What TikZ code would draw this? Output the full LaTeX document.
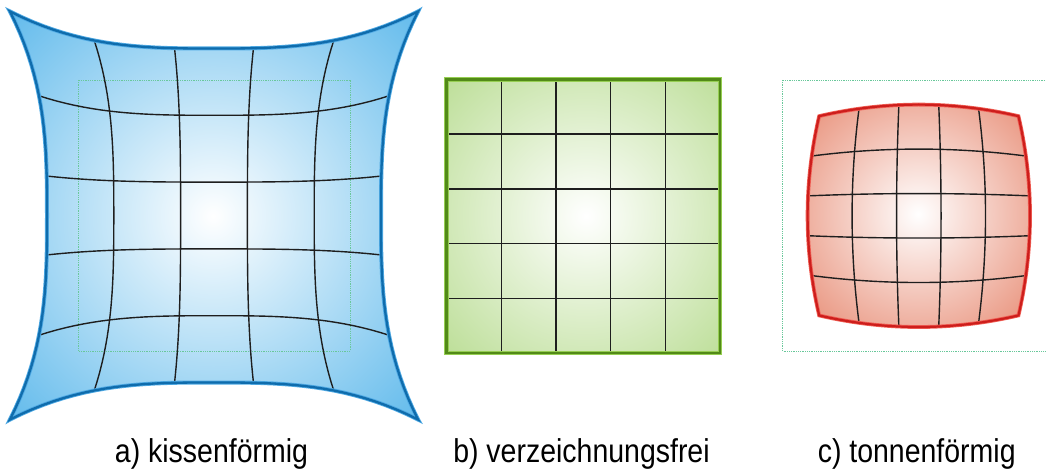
\documentclass[tikz,border=0pt]{standalone}
\usepackage{fontspec}
\setmainfont{Liberation Sans}
\usepackage{graphicx}
\definecolor{blueF}{RGB}{92,184,235}
\definecolor{blueD}{RGB}{15,108,172}
\definecolor{blueL}{RGB}{80,170,228}
\definecolor{greenF}{RGB}{186,221,148}
\definecolor{greenD}{RGB}{82,138,24}
\definecolor{greenL}{RGB}{150,206,82}
\definecolor{redF}{RGB}{233,148,126}
\definecolor{redD}{RGB}{205,30,28}
\definecolor{redL}{RGB}{240,95,85}
\definecolor{gridC}{RGB}{30,30,30}
\definecolor{guideC}{RGB}{105,200,155}
\newcommand\PinPath{plot[domain=-1:1,samples=41] ({PAx(\x,-1)},{PAy(\x,-1)}) -- plot[domain=-1:1,samples=41] ({PAx(1,\x)},{PAy(1,\x)}) -- plot[domain=1:-1,samples=41] ({PAx(\x,1)},{PAy(\x,1)}) -- plot[domain=1:-1,samples=41] ({PAx(-1,\x)},{PAy(-1,\x)}) -- cycle}
\newcommand\BarPath{plot[domain=-1:1,samples=41] ({PCx(\x,-1)},{PCy(\x,-1)}) -- plot[domain=-1:1,samples=41] ({PCx(1,\x)},{PCy(1,\x)}) -- plot[domain=1:-1,samples=41] ({PCx(\x,1)},{PCy(\x,1)}) -- plot[domain=1:-1,samples=41] ({PCx(-1,\x)},{PCy(-1,\x)}) -- cycle}
\begin{document}
\begin{tikzpicture}[x=1pt,y=-1pt,
  declare function={
    PAx(\u,\v)=214+167*(\u)*(1+0.222*abs(\v)*(\v)*(\v)*(0.81+0.19*(\u)*(\u)));
    PAy(\u,\v)=215.5+167*(\v)*(1+0.222*abs(\u)*(\u)*(\u)*(0.81+0.19*(\v)*(\v)));
    PCx(\u,\v)=918.8+111.2*(\u)*(1-0.104*(\v)*(\v));
    PCy(\u,\v)=215.8+111.2*(\v)*(1-0.104*(\u)*(\u));
  },
  gridline/.style={line width=1.4pt, draw=gridC},
  guide/.style={draw=guideC, line width=0.9pt, dash pattern=on 0.9pt off 0.9pt},
  lab/.style={font=\fontsize{33}{40}\selectfont, anchor=base, inner sep=0pt, text=black}
]
\useasboundingbox (0,0) rectangle (1046,470);
\clip (0,0) rectangle (1046,470);

% ---------- a) pincushion ----------
\begin{scope}
  \clip \PinPath;
  \shade[inner color=white, outer color=blueF] (213,216) circle (300pt);
\end{scope}
\draw[guide] (78.3,80) rectangle (350,351);
\foreach \g in {-0.6,-0.2,0.2,0.6}{
  \draw[gridline] plot[domain=-1:1,samples=41] ({PAx(\g,\x)},{PAy(\g,\x)});
  \draw[gridline] plot[domain=-1:1,samples=41] ({PAx(\x,\g)},{PAy(\x,\g)});
}
\draw[blueL, line width=4pt, line join=miter] \PinPath;
\draw[blueD, line width=2.3pt, line join=miter] \PinPath;

% ---------- b) undistorted ----------
\begin{scope}
  \clip (446.5,79.5) rectangle (720,353);
  \shade[inner color=white, outer color=greenF] (586,216) circle (205pt);
\end{scope}
\foreach \i in {1,...,4}{
  \draw[gridline] ({446.5+54.7*\i},79.5) -- ({446.5+54.7*\i},353);
  \draw[gridline] (446.5,{79.5+54.7*\i}) -- (720,{79.5+54.7*\i});
}
\draw[greenL, line width=4.4pt] (446.5,79.5) rectangle (720,353);
\draw[greenD, line width=2.4pt] (446.5,79.5) rectangle (720,353);

% ---------- c) barrel ----------
\draw[guide] (782.7,80) rectangle (1056,351);
\begin{scope}
  \clip \BarPath;
  \shade[inner color=white, outer color=redF] (918,214) circle (150pt);
\end{scope}
\foreach \g in {-0.6,-0.2,0.2,0.6}{
  \draw[gridline] plot[domain=-1:1,samples=41] ({PCx(\g,\x)},{PCy(\g,\x)});
  \draw[gridline] plot[domain=-1:1,samples=41] ({PCx(\x,\g)},{PCy(\x,\g)});
}
\draw[redL, line width=3.8pt, line join=miter] \BarPath;
\draw[redD, line width=2.2pt, line join=miter] \BarPath;

% ---------- labels ----------
\node[lab] (la) at (211.5,462.7) {\scalebox{0.863}[1]{a) kissenförmig}};
\node[lab] (lb) at (581.5,462.7) {\scalebox{0.863}[1]{b) verzeichnungsfrei}};
\node[lab] (lc) at (916.7,462.7) {\scalebox{0.863}[1]{c) tonnenförmig}};
\end{tikzpicture}
\end{document}
